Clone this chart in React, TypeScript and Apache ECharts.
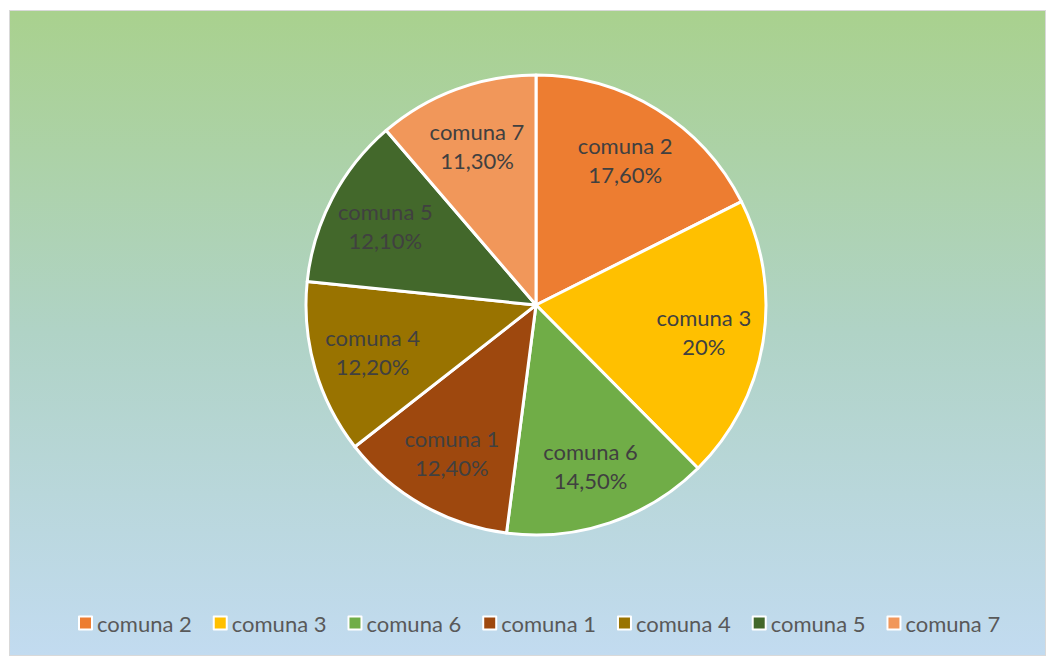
import React, { useEffect, useRef } from "react";
import * as echarts from "echarts";

const categories = ["comuna 2", "comuna 3", "comuna 6", "comuna 1", "comuna 4", "comuna 5", "comuna 7"];
const values = [17.6, 20, 14.5, 12.4, 12.2, 12.1, 11.3];
const pctLabels = ["17,60%", "20%", "14,50%", "12,40%", "12,20%", "12,10%", "11,30%"];
const colors = ["#ED7D31", "#FFC000", "#70AD47", "#9E480E", "#997300", "#43682B", "#F1975A"];

const FONT = "Lato, 'Open Sans', sans-serif";

export default function App() {
  const ref = useRef<HTMLDivElement>(null);
  useEffect(() => {
    if (!ref.current) return;
    const chart = echarts.init(ref.current, undefined, { renderer: "svg" });
    const data = categories.map((c, i) => ({
      name: c,
      value: values[i],
      itemStyle: { color: colors[i] },
    }));
    chart.setOption({
      animation: false,
      backgroundColor: new echarts.graphic.LinearGradient(0, 0, 0, 1, [
        { offset: 0, color: "#A9D18E" },
        { offset: 0.5, color: "#B0D3C6" },
        { offset: 1, color: "#C2DBF0" },
      ]),
      legend: {
        data: categories,
        bottom: 16,
        left: 63,
        icon: "rect",
        itemWidth: 13,
        itemHeight: 13,
        itemGap: 21,
        itemStyle: { borderColor: "#FFFFFF", borderWidth: 2 },
        textStyle: { fontFamily: FONT, fontSize: 22, color: "#595959", padding: [0, 0, 0, 0] },
      },
      series: [
        {
          type: "pie",
          center: [526, 294],
          radius: [0, 230],
          startAngle: 90,
          clockwise: true,
          data,
          itemStyle: { borderColor: "#FFFFFF", borderWidth: 3 },
          label: { show: false },
          labelLine: { show: false },
          emphasis: { disabled: true },
        },
        {
          type: "pie",
          center: [526, 294],
          radius: [104, 230],
          startAngle: 90,
          clockwise: true,
          silent: true,
          legendHoverLink: false,
          data: categories.map((c, i) => ({
            name: c + " ",
            value: values[i],
            label: { formatter: c + "\n" + pctLabels[i] },
          })),
          itemStyle: { color: "rgba(0,0,0,0)" },
          label: {
            show: true,
            position: "inside",
            fontFamily: FONT,
            fontSize: 22,
            lineHeight: 29,
            color: "#404040",
          },
          labelLine: { show: false },
          emphasis: { disabled: true },
        },
      ],
    });
    return () => chart.dispose();
  }, []);
  return (
    <div
      ref={ref}
      style={{
        position: "absolute",
        left: 9,
        top: 10,
        width: 1037,
        height: 646,
        border: "1px solid #D9D9D9",
        boxSizing: "border-box",
      }}
    />
  );
}
